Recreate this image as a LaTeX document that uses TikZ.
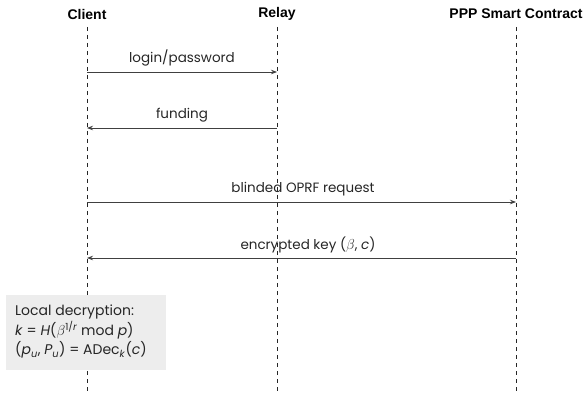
\documentclass[tikz,border=0pt]{standalone}
\usepackage{fontspec}
\setmainfont{Poppins}
\newfontfamily\headfont{Liberation Sans}
\usetikzlibrary{arrows.meta}
\begin{document}
\begin{tikzpicture}[x=1pt,y=-1pt,
  actor/.style={font=\headfont\bfseries\fontsize{14}{16}\selectfont, text=black, inner sep=0pt},
  lifeline/.style={draw=black!85, line width=0.8pt, dash pattern=on 4pt off 4pt},
  msg/.style={draw=black!75, line width=0.8pt, -{Stealth[length=6pt,width=4.5pt]}},
  msglabel/.style={font=\fontsize{13.5}{16}\selectfont, text=black!85, inner sep=0pt, anchor=base},
  notebox/.style={fill=black!7, draw=none, anchor=north west, inner sep=0pt,
    minimum width=160pt, minimum height=75pt}
]
\useasboundingbox (0,0) rectangle (584,393);

% participants
\node[actor] (client) at (87,14) {Client};
\node[actor] (relay) at (277,14) {Relay};
\node[actor] (ppp) at (516,14) {PPP Smart Contract};

% lifeline ends
\coordinate (clientEnd) at (87,393);
\coordinate (relayEnd) at (277,393);
\coordinate (pppEnd) at (516,393);
\draw[lifeline] (87,27) -- (clientEnd);
\draw[lifeline] (277,27) -- (relayEnd);
\draw[lifeline] (516,27) -- (pppEnd);

% message end points on the lifelines
\coordinate (c1) at (87,72);   \coordinate (r1) at (277,72);
\coordinate (c2) at (87,128);  \coordinate (r2) at (277,128);
\coordinate (c3) at (87,202);  \coordinate (p3) at (516,202);
\coordinate (c4) at (87,258);  \coordinate (p4) at (516,258);

% messages
\draw[msg] (c1) -- (r1);
\node[msglabel] (l1) at (182,63) {login/password};
\draw[msg] (r2) -- (c2);
\node[msglabel] (l2) at (182,119) {funding};
\draw[msg] (c3) -- (p3);
\node[msglabel] (l3) at (303,193) {blinded OPRF request};
\draw[msg] (p4) -- (c4);
\node[msglabel] (l4) at (308,249) {encrypted key ($\beta$, \textit{c})};

% local computation note on the client
\node[notebox] (note) at (6,295) {};
\node[anchor=north west, inner sep=0pt, align=left, text=black!85,
  font=\fontsize{14}{19.5}\selectfont] (notetext) at (15,305)
  {Local decryption:\\
   \textit{k} = \textit{H}($\beta$\textsuperscript{1/\textit{r}} mod \textit{p})\\
   (\textit{p}\textsubscript{\textit{u}}, \textit{P}\textsubscript{\textit{u}}) = ADec\textsubscript{\textit{k}}(\textit{c})};
\end{tikzpicture}
\end{document}
